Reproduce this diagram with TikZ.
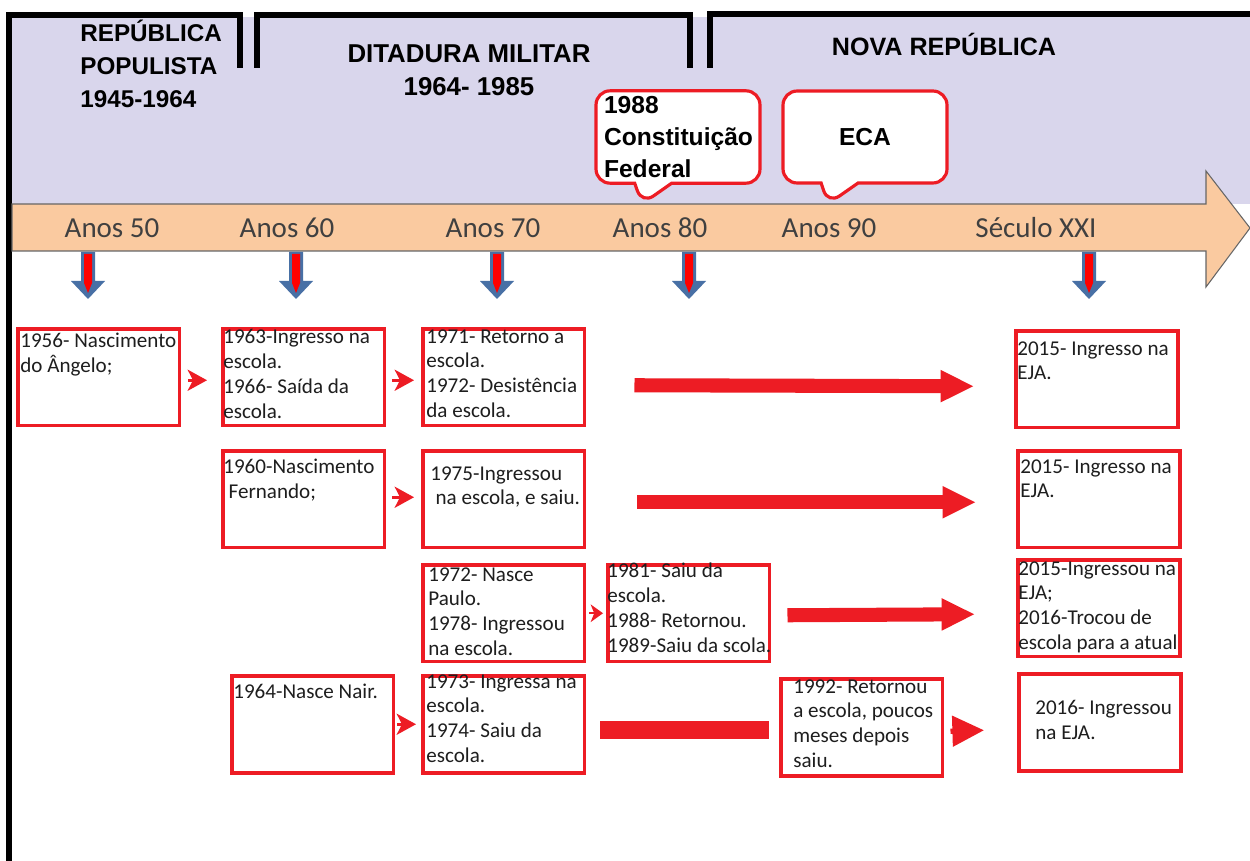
\documentclass[tikz,border=0pt]{standalone}
\usepackage{fontspec}
\setmainfont{Carlito}
\newfontfamily\titlefont{Liberation Sans}
\usetikzlibrary{arrows.meta,shapes.callouts}
\definecolor{boxred}{RGB}{237,28,36}
\definecolor{lavbg}{RGB}{217,214,236}
\definecolor{bandc}{RGB}{250,202,160}
\definecolor{arrblue}{RGB}{72,112,165}
\definecolor{txtc}{RGB}{30,30,30}

\begin{document}
\begin{tikzpicture}[x=0.02cm, y=-0.02cm,
    evbox/.style={rectangle, draw=boxred, line width=2pt, fill=white, minimum width=3.24cm, minimum height=1.94cm, anchor=north west, inner sep=0pt},
    evtxt/.style={anchor=north west, inner sep=0pt, align=left, text=txtc, font=\fontsize{12}{14.2}\selectfont},
    ttl/.style={inner sep=0pt, font=\titlefont\bfseries\fontsize{13.8}{18.7}\selectfont},
    anos/.style={inner sep=0pt, text=black!75, font=\fontsize{16.5}{20}\selectfont},
    callbox/.style={rectangle callout, draw=boxred, line width=1.8pt, fill=white, rounded corners=8pt, minimum width=3.24cm, minimum height=1.84cm, callout pointer width=0.74cm, inner xsep=0.16cm, text width=2.96cm, font=\titlefont\bfseries\fontsize{14}{18}\selectfont},
    smallarr/.style={draw=boxred, fill=boxred, line width=1.5pt, -{Stealth[length=11pt, width=12pt, inset=3pt]}},
    tinyarr/.style={draw=boxred, fill=boxred, line width=1pt, -{Stealth[length=7pt, width=10pt, inset=2pt]}},
    bigarr/.style={draw=boxred, line width=8pt, -{Triangle[length=19pt, width=17pt]}},
    barline/.style={draw=boxred, line width=10pt},
    fatarr/.style={draw=boxred, line width=3pt, -{Triangle[length=18pt, width=17pt]}},
    frame/.style={line width=3.4pt, draw=black}]

    \useasboundingbox (0,0) rectangle (1250,861);
    \fill[white] (0,0) rectangle (1250,861);
    \fill[lavbg] (12,17) rectangle (1250,204);

    \draw[frame] (9,861) -- (9,15) -- (240,15) -- (240,68);
    \draw[frame] (257,68) -- (257,15) -- (690,15) -- (690,68);
    \draw[frame] (710,68) -- (710,14) -- (1250,14);

    \node[ttl, anchor=west, align=left] (rp) at (80,64) {REPÚBLICA\\POPULISTA\\1945-1964};
    \node[ttl, align=center, font=\titlefont\bfseries\fontsize{14.7}{19}\selectfont] (dm) at (469,70) {DITADURA MILITAR\\1964- 1985};
    \node[ttl, font=\titlefont\bfseries\fontsize{14.3}{18}\selectfont] (nr) at (944,44) {NOVA REPÚBLICA};

    \node[callbox, align=left, callout absolute pointer={(642,204)}] (cf) at (678,137) {1988\\Constituição\\Federal};
    \node[callbox, align=center, callout absolute pointer={(828,204)}] (eca) at (865,137) {ECA};

    \draw[draw=black!60, line width=0.6pt, fill=bandc] (12,204) -- (1206,204) -- (1206,171) -- (1250,228) -- (1206,287) -- (1206,251) -- (12,251) -- cycle;

    \node[anos] (a50) at (112,228) {Anos 50};
    \node[anos] (a60) at (287,228) {Anos 60};
    \node[anos] (a70) at (493,228) {Anos 70};
    \node[anos] (a80) at (660,228) {Anos 80};
    \node[anos] (a90) at (829,228) {Anos 90};
    \node[anos] (sxxi) at (1036,228) {Século XXI};

    \foreach \x in {88,296,497,689,1089} {
        \fill[arrblue] (\x-7,252) -- (\x+7,252) -- (\x+7,281) -- (\x+17,281) -- (\x,299) -- (\x-17,281) -- (\x-7,281) -- cycle;
        \fill[red] (\x-4,254) -- (\x+4,254) -- (\x+4,283) -- (\x,293) -- (\x-4,283) -- cycle;
    }

    \node[evbox] (a1) at (16,327) {};
    \node[evbox] (a2) at (221,327) {};
    \node[evbox] (a3) at (421,327) {};
    \node[evbox] (a4) at (1014,329) {};
    \node[evbox] (b1) at (221,449) {};
    \node[evbox] (b2) at (421,449) {};
    \node[evbox] (b3) at (1016,449) {};
    \node[evbox] (c1) at (421,563) {};
    \node[evbox] (c2) at (606,563) {};
    \node[evbox] (c3) at (1016,558) {};
    \node[evbox] (d1) at (230,674) {};
    \node[evbox] (d2) at (421,674) {};
    \node[evbox] (d3) at (779,677) {};
    \node[evbox] (d4) at (1017,672) {};

    \node[evtxt] at ([shift={(4,6)}]a1.north west) {1956- Nascimento\\do Ângelo;};
    \node[evtxt] at ([shift={(2,2)}]a2.north west) {1963-Ingresso na\\escola.\\1966- Saída da\\escola.};
    \node[evtxt] at ([shift={(5,2)}]a3.north west) {1971- Retorno a\\escola.\\1972- Desistência\\da escola.};
    \node[evtxt] at ([shift={(3,12)}]a4.north west) {2015- Ingresso na\\EJA.};
    \node[evtxt] at ([shift={(2,10)}]b1.north west) {1960-Nascimento\\\hspace*{3pt}Fernando;};
    \node[evtxt] at ([shift={(9,17)}]b2.north west) {1975-Ingressou\\\hspace*{3pt}na escola, e saiu.};
    \node[evtxt] at ([shift={(4,10)}]b3.north west) {2015- Ingresso na\\EJA.};
    \node[evtxt] at ([shift={(7,4)}]c1.north west) {1972- Nasce\\Paulo.\\1978- Ingressou\\na escola.};
    \node[evtxt] at ([shift={(1,0)}]c2.north west) {1981- Saiu da\\escola.\\1988- Retornou.\\1989-Saiu da scola.};
    \node[evtxt] at ([shift={(2,3)}]c3.north west) {2015-Ingressou na\\EJA;\\2016-Trocou de\\escola para a atual};
    \node[evtxt] at ([shift={(3,10)}]d1.north west) {1964-Nasce Nair.};
    \node[evtxt] at ([shift={(5,0)}]d2.north west) {1973- Ingressa na\\escola.\\1974- Saiu da\\escola.};
    \node[evtxt] at ([shift={(14,2)}]d3.north west) {1992- Retornou\\a escola, poucos\\meses depois\\saiu.};
    \node[evtxt] at ([shift={(18,28)}]d4.north west) {2016- Ingressou\\na EJA.};

    \draw[smallarr] ([shift={(7,3)}]a1.east) -- ([shift={(-14,3)}]a2.west);
    \draw[smallarr] ([shift={(6,3)}]a2.east) -- ([shift={(-7,3)}]a3.west);
    \draw[bigarr] ([shift={(48,8)}]a3.east) -- ([shift={(-40,7)}]a4.west);
    \draw[smallarr] ([shift={(6,-2)}]b1.east) -- ([shift={(-7,-2)}]b2.west);
    \draw[bigarr] ([shift={(51,3)}]b2.east) -- ([shift={(-40,3)}]b3.west);
    \draw[tinyarr] ([shift={(3,0)}]c1.east) -- ([shift={(-3,0)}]c2.west);
    \draw[bigarr] ([shift={(16,2)}]c2.east) -- ([shift={(-41,6)}]c3.west);
    \draw[smallarr] ([shift={(2,0)}]d1.east) -- ([shift={(-5,0)}]d2.west);
    \draw[barline] ([shift={(14,6)}]d2.east) -- ([shift={(-10,3)}]d3.west);
    \draw[fatarr] ([shift={(6,4)}]d3.east) -- ([shift={(-33,8)}]d4.west);

\end{tikzpicture}
\end{document}
